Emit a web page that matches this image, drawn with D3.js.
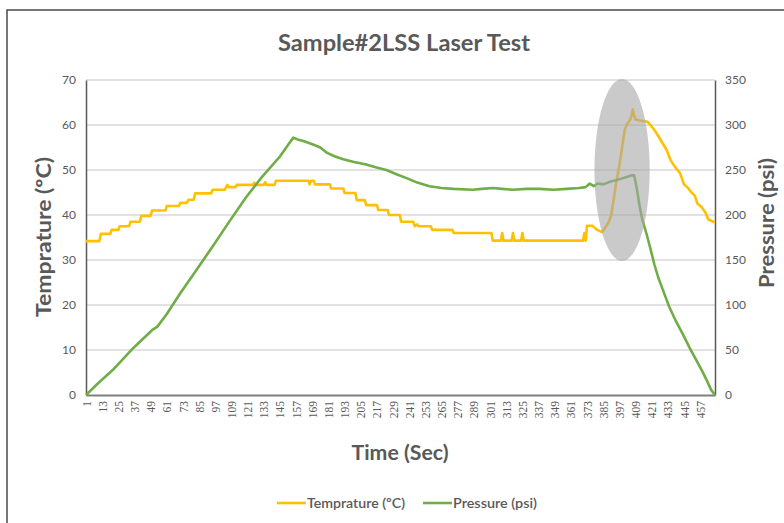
<!DOCTYPE html>
<html>
<head>
<meta charset="utf-8">
<script src="https://d3js.org/d3.v7.min.js"></script>
<style>
  body { margin: 0; background: #fff; }
  text { font-family: Lato, "Open Sans", sans-serif; fill: #595959; }
</style>
</head>
<body>
<svg id="chart" width="784" height="523"></svg>
<script>
// temperature readings [sec, ºC]
var tempSeries = [[1,34.2],[11,34.2],[12,35.8],[19,35.8],[20,36.7],[25,36.7],[26,37.5],[33,37.5],[34,38.5],[41,38.5],
  [42,39.8],[49,39.8],[50,41],[60,41],[61,42],[70,42],[71,42.7],[76,42.7],[77,43.4],[81,43.4],[82,44.8],[94,44.8],
  [95,45.6],[104,45.6],[105,46.2],[106,46.7],[107,46.2],[112,46.2],[113,46.7],[125,46.7],[126,47.2],[127,46.7],[133,46.7],
  [134,47.3],[135,46.7],[141,46.7],[142,47.6],[166,47.6],[167,46.8],[168,47.6],[170,47.6],[171,46.8],[182,46.8],
  [183,45.9],[192,45.9],[193,44.9],[201,44.9],[202,43.3],[208,43.3],[209,42.2],[217,42.2],[218,41.1],[225,41.1],
  [226,40],[234,40],[235,38.5],[244,38.5],[245,37.5],[247,37.9],[248,37.5],[257,37.5],[258,36.7],[273,36.7],[274,36],
  [302,36],[303,34.3],[309,34.3],[310,36],[311,34.3],[317,34.3],[318,36],[319,34.3],[324,34.3],[325,36],[326,34.3],
  [370,34.3],[371,36],[372,34.3],[373,37.6],[377,37.6],[380,36.8],[384,36.2],[386,37],[389,38.4],[391,40],[393,44],
  [395,47.8],[397,51],[399,55],[401,59],[403,60.3],[405,61.2],[406,62],[407,63.5],[408,62],[409,61.2],[412,61],
  [418,60.7],[420,60],[423,58.9],[426,57.5],[429,56],[432,54.5],[435,52.2],[438,50.8],[442,49.3],[445,46.8],
  [448,46],[450,45.2],[453,44.3],[455,42.5],[458,41.8],[461,40.5],[463,39],[466,38.6],[468,38.4]];

// pressure readings [sec, psi]
var pressureSeries = [[1,0],[10,13],[21,28],[36,52],[50,72],[54,76],[61,90],[71,113],[83,139],[95,165],[108,194],
  [120,220],[132,243],[145,265],[152,280],[155,286],[158,284],[163,282],[170,278],[175,275],[180,269],[186,265],
  [192,262],[200,259],[209,256],[216,253],[224,250],[232,245],[239,241],[247,236],[256,232],[265,230],[274,229],
  [288,228],[295,229],[303,230],[310,229],[318,228],[328,229],[338,229],[348,228],[358,229],[367,230],[372,231],
  [375,235],[378,232],[381,235],[385,234],[390,237],[395,239],[400,241],[406,244],[408,244],[410,229],[412,210],
  [414,195],[417,180],[420,163],[423,145],[426,130],[430,114],[434,98],[439,82],[444,68],[449,53],[454,39],
  [458,28],[462,16],[465,6],[468,0]];

var timeTicks = [1,13,25,37,49,61,73,85,97,109,121,133,145,157,169,181,193,205,217,229,241,253,265,277,289,
  301,313,325,337,349,361,373,385,397,409,421,433,445,457];
var tempTicks = [0,10,20,30,40,50,60,70];
var pressureTicks = [0,50,100,150,200,250,300,350];

// highlighted region: centre [sec, ºC] and half sizes
var highlight = { t: 399, temp: 50, dt: 20.5, dtemp: 20.2 };

const margin = { top: 80, bottom: 128, left: 86, right: 69 };
const W = 784, H = 523;

var svg = d3.select("#chart");

var x = d3.scaleLinear().domain([1, 468]).range([margin.left, W - margin.right]);
var yTemp = d3.scaleLinear().domain([0, 70]).range([H - margin.bottom, margin.top]);
var yPress = d3.scaleLinear().domain([0, 350]).range([H - margin.bottom, margin.top]);

// chart frame
svg.append("rect")
  .attr("x", 7).attr("y", 10)
  .attr("width", 820).attr("height", 560)
  .attr("fill", "#fff")
  .attr("stroke", "#4a4a4a")
  .attr("stroke-width", 1.5);

// title
svg.append("text")
  .attr("x", 404).attr("y", 51)
  .attr("text-anchor", "middle")
  .attr("font-size", 23).attr("font-weight", "bold")
  .attr("textLength", 252).attr("lengthAdjust", "spacingAndGlyphs")
  .text("Sample#2LSS Laser Test");

// gridlines
svg.append("g").selectAll("line")
  .data(tempTicks.slice(1))
  .enter().append("line")
  .attr("x1", x(1)).attr("x2", x(468))
  .attr("y1", d => yTemp(d)).attr("y2", d => yTemp(d))
  .attr("stroke", "#d9d9d9").attr("stroke-width", 1.5);

// left axis
var leftAxis = svg.append("g")
  .attr("transform", "translate(" + margin.left + ",0)")
  .call(d3.axisLeft(yTemp).tickValues(tempTicks).tickSize(0).tickPadding(10));
leftAxis.select(".domain").attr("stroke", "#595959").attr("stroke-width", 1.5);
leftAxis.selectAll("text").attr("font-size", 12).style("font-family", "Lato, sans-serif").attr("fill", "#7a7a7a");

// right axis
var rightAxis = svg.append("g")
  .attr("transform", "translate(" + (W - margin.right) + ",0)")
  .call(d3.axisRight(yPress).tickValues(pressureTicks).tickSize(0).tickPadding(10));
rightAxis.select(".domain").attr("stroke", "#595959").attr("stroke-width", 1.5);
rightAxis.selectAll("text").attr("font-size", 12).style("font-family", "Lato, sans-serif").attr("fill", "#7a7a7a");

// bottom axis
var bottomAxis = svg.append("g")
  .attr("transform", "translate(0," + (H - margin.bottom) + ")")
  .call(d3.axisBottom(x).tickValues(timeTicks).tickSize(0).tickFormat(d3.format("d")));
bottomAxis.select(".domain").attr("stroke", "#7f7f7f").attr("stroke-width", 2);
bottomAxis.selectAll("text")
  .attr("transform", "rotate(-90)")
  .attr("x", -6).attr("y", 0)
  .attr("dy", "0.35em")
  .attr("text-anchor", "end")
  .attr("font-size", 11.5)
  .style("font-family", "'Liberation Serif', serif")
  .attr("fill", "#7a7a7a");

// series
var tempLine = d3.line().x(d => x(d[0])).y(d => yTemp(d[1]));
var pressLine = d3.line().x(d => x(d[0])).y(d => yPress(d[1]));

svg.append("path")
  .datum(tempSeries)
  .attr("d", tempLine)
  .attr("fill", "none")
  .attr("stroke", "#ffc000")
  .attr("stroke-width", 2.6)
  .attr("stroke-linejoin", "round");

svg.append("path")
  .datum(pressureSeries)
  .attr("d", pressLine)
  .attr("fill", "none")
  .attr("stroke", "#70ad47")
  .attr("stroke-width", 2.6)
  .attr("stroke-linejoin", "round");

// highlight ellipse over the laser spike
svg.append("ellipse")
  .attr("cx", x(highlight.t))
  .attr("cy", yTemp(highlight.temp))
  .attr("rx", x(highlight.t + highlight.dt) - x(highlight.t))
  .attr("ry", yTemp(highlight.temp - highlight.dtemp) - yTemp(highlight.temp))
  .attr("fill", "#a6a6a6")
  .attr("opacity", 0.6);

// axis titles
svg.append("text")
  .attr("transform", "translate(51,237) rotate(-90)")
  .attr("text-anchor", "middle")
  .attr("font-size", 21).attr("font-weight", "bold")
  .attr("textLength", 160).attr("lengthAdjust", "spacingAndGlyphs")
  .text("Temprature (ºC)");

svg.append("text")
  .attr("transform", "translate(774,223) rotate(-90)")
  .attr("text-anchor", "middle")
  .attr("font-size", 21).attr("font-weight", "bold")
  .attr("textLength", 130).attr("lengthAdjust", "spacingAndGlyphs")
  .text("Pressure (psi)");

svg.append("text")
  .attr("x", 400).attr("y", 460)
  .attr("text-anchor", "middle")
  .attr("font-size", 21).attr("font-weight", "bold")
  .attr("textLength", 97).attr("lengthAdjust", "spacingAndGlyphs")
  .text("Time (Sec)");

// legend
var legendItems = [
  { label: "Temprature (ºC)", color: "#ffc000", x0: 277, len: 98 },
  { label: "Pressure (psi)", color: "#70ad47", x0: 423, len: 84 }
];
var legend = svg.append("g").selectAll("g")
  .data(legendItems)
  .enter().append("g");
legend.append("line")
  .attr("x1", d => d.x0).attr("x2", d => d.x0 + 29)
  .attr("y1", 503).attr("y2", 503)
  .attr("stroke", d => d.color).attr("stroke-width", 2.6);
legend.append("text")
  .attr("x", d => d.x0 + 30).attr("y", 508)
  .attr("font-size", 13.5).attr("font-weight", 600)
  .attr("textLength", d => d.len).attr("lengthAdjust", "spacingAndGlyphs")
  .text(d => d.label);
</script>
</body>
</html>
